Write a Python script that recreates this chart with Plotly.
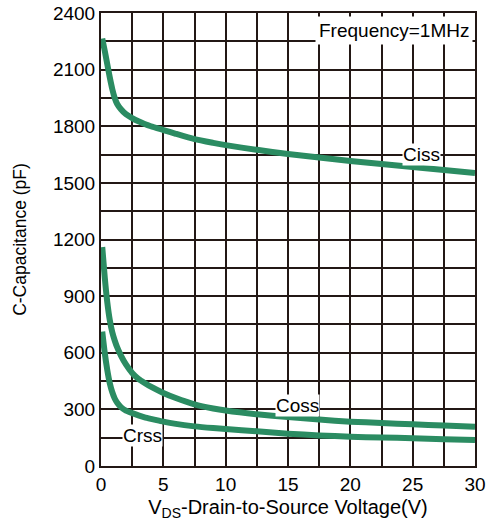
import plotly.graph_objects as go

vds = [0.1, 0.3, 0.5, 0.7, 0.9, 1.1, 1.3, 1.6, 2.0, 2.5, 3.0, 3.5, 4.0, 5.0, 6.0, 7.5, 9.0, 10, 12.5, 15, 17.5, 20, 22.5, 25, 27.5, 30]
ciss = [2265, 2200, 2130, 2060, 1998, 1950, 1918, 1890, 1864, 1843, 1826, 1812, 1800, 1780, 1760, 1732, 1712, 1700, 1675, 1653, 1634, 1616, 1600, 1584, 1568, 1552]
coss = [1160, 1000, 870, 775, 710, 665, 628, 585, 538, 493, 462, 440, 420, 387, 360, 327, 305, 294, 274, 259, 246, 235, 228, 221, 214, 208]
crss = [712, 600, 510, 440, 392, 358, 335, 312, 293, 280, 268, 258, 250, 235, 223, 210, 201, 196, 184, 171, 162, 155, 151, 147, 142, 138]

x_ticks = [i * 2.5 for i in range(13)]
x_labels = [str(int(v)) if i % 2 == 0 else "" for i, v in enumerate(x_ticks)]
y_ticks = [i * 150 for i in range(17)]
y_labels = [str(v) if i % 2 == 0 else "" for i, v in enumerate(y_ticks)]

green = "#2b8c62"
grid = "#231815"
font = "Liberation Sans, Arial, sans-serif"

fig = go.Figure()
for name, vals in [("Ciss", ciss), ("Coss", coss), ("Crss", crss)]:
    fig.add_trace(go.Scatter(x=vds, y=vals, mode="lines", name=name,
                             line=dict(color=green, width=6, shape="spline", smoothing=0.6)))

ann = dict(font=dict(family=font, size=19, color="black"), showarrow=False,
           bgcolor="white", borderpad=0)
fig.add_annotation(x=25.7, y=1653, text="Ciss", **ann)
fig.add_annotation(x=15.8, y=318, text="Coss", **ann)
fig.add_annotation(x=3.3, y=159, text="Crss", **ann)
fig.add_annotation(x=0.995, y=0.994, xref="paper", yref="paper", xanchor="right", yanchor="top",
                   text="Frequency=1MHz", font=dict(family=font, size=19, color="black"),
                   showarrow=False, bgcolor="white", borderpad=3)

fig.update_layout(
    width=486, height=527,
    margin=dict(l=101, r=11, t=13, b=61, autoexpand=False),
    paper_bgcolor="white", plot_bgcolor="white",
    showlegend=False,
    font=dict(family=font, size=19, color="black"),
)
fig.update_xaxes(range=[0, 30], tickvals=x_ticks, ticktext=x_labels, automargin=False,
                 showgrid=True, gridcolor=grid, gridwidth=2,
                 showline=True, linecolor=grid, linewidth=2, mirror=True,
                 ticks="", zeroline=False, tickfont=dict(size=19),
                 title=dict(text="V<sub>DS</sub>-Drain-to-Source Voltage(V)", standoff=6,
                            font=dict(family=font, size=20)))
fig.update_yaxes(range=[0, 2400], tickvals=y_ticks, ticktext=y_labels, automargin=False,
                 showgrid=True, gridcolor=grid, gridwidth=2,
                 showline=True, linecolor=grid, linewidth=2, mirror=True,
                 ticks="", zeroline=False, tickfont=dict(size=19),
                 title=dict(text="C-Capacitance (pF)", standoff=22,
                            font=dict(family=font, size=17.5)))

fig.write_html("out.html")
